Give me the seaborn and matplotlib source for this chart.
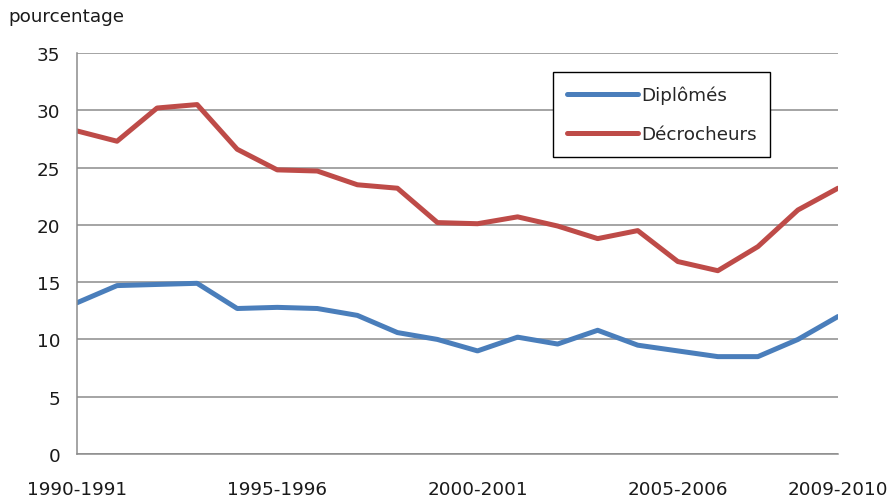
import matplotlib
matplotlib.use("Agg")
import matplotlib.pyplot as plt
import seaborn as sns
import pandas as pd

# School years from 1990-1991 to 2009-2010
years = [f"{y}-{y + 1}" for y in range(1990, 2010)]

diplomes = [13.2, 14.7, 14.8, 14.9, 12.7, 12.8, 12.7, 12.1, 10.6, 10.0,
            9.0, 10.2, 9.6, 10.8, 9.5, 9.0, 8.5, 8.5, 10.0, 12.0]
decrocheurs = [28.2, 27.3, 30.2, 30.5, 26.6, 24.8, 24.7, 23.5, 23.2, 20.2,
               20.1, 20.7, 19.9, 18.8, 19.5, 16.8, 16.0, 18.1, 21.3, 23.2]

series_names = ["Diplômés", "Décrocheurs"]
series_colors = ["#4A7EBB", "#BE4B48"]
labelled_years = ["1990-1991", "1995-1996", "2000-2001", "2005-2006", "2009-2010"]
y_ticks = [0, 5, 10, 15, 20, 25, 30, 35]

df = pd.DataFrame({
    "idx": list(range(len(years))) * 2,
    "valeur": diplomes + decrocheurs,
    "serie": [series_names[0]] * len(years) + [series_names[1]] * len(years),
})

sns.set_theme(style="white")
plt.rcParams["font.family"] = ["DejaVu Sans"]

FS = 13.2
TXT = "#1a1a1a"
GRID = "#8C8C8C"

fig = plt.figure(figsize=(8.93, 5.02), dpi=100)
ax = fig.add_axes([0.0862, 0.0936, 0.8522, 0.7988])

sns.lineplot(data=df, x="idx", y="valeur", hue="serie", hue_order=series_names,
             palette=series_colors, linewidth=3.6, ax=ax, legend=True)

ax.set_xlim(0, len(years) - 1)
ax.set_ylim(0, 35)
ax.set_yticks(y_ticks)
ax.set_yticklabels([str(v) for v in y_ticks], fontsize=FS, color=TXT)
ax.yaxis.grid(True, color=GRID, linewidth=1.1)
ax.xaxis.grid(False)

ax.set_xticks(range(len(years)))
ax.set_xticklabels([y if y in labelled_years else "" for y in years],
                   fontsize=FS, color=TXT)
ax.tick_params(axis="x", direction="out", length=5, width=1, color=GRID, pad=14)
ax.tick_params(axis="y", length=0, pad=12)

for side in ["top", "right"]:
    ax.spines[side].set_visible(False)
for side in ["left", "bottom"]:
    ax.spines[side].set_color(GRID)
    ax.spines[side].set_linewidth(1.1)

ax.set_xlabel("")
ax.set_ylabel("")

leg = ax.legend(loc="upper left", bbox_to_anchor=(0.6255, 0.953), fontsize=FS,
                frameon=True, fancybox=False, edgecolor="black", framealpha=1,
                handlelength=3.9, handletextpad=0.15, borderpad=0.75,
                labelspacing=1.15, borderaxespad=0)
leg.get_frame().set_linewidth(1.0)
for line in leg.get_lines():
    line.set_linewidth(3.6)

fig.text(0.009, 0.967, "pourcentage", fontsize=FS, color=TXT,
         ha="left", va="center")

fig.savefig("out.png", dpi=100, facecolor="white")
